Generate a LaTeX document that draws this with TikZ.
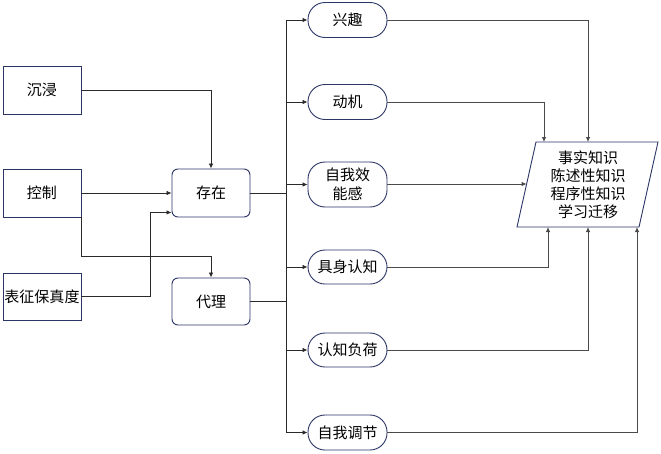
\documentclass[tikz,border=0pt]{standalone}
\usepackage{fontspec}
\newfontfamily\cjk{Noto Sans CJK SC}
\usetikzlibrary{arrows.meta,calc}
\definecolor{navy}{HTML}{2B3566}
\definecolor{conn}{HTML}{2A2A2A}
\definecolor{connr}{HTML}{4A4A4A}
\begin{document}
\begin{tikzpicture}[x=1pt,y=-1pt,
  txt/.style={font=\cjk\fontsize{15}{19}\selectfont, align=center},
  box/.style={txt, draw=navy, line width=0.9pt, minimum width=78pt, minimum height=48pt, inner sep=0pt},
  rbox/.style={box, rounded corners=6pt},
  pill/.style={txt, draw=navy, line width=0.9pt, rounded corners=17pt, minimum width=79pt, minimum height=35pt, inner sep=0pt},
  link/.style={draw=conn, line width=0.8pt, -{Latex[length=5pt,width=4.5pt]}},
  linkr/.style={draw=connr, line width=0.8pt, -{Latex[length=5pt,width=4.5pt]}},
  plain/.style={draw=conn, line width=0.8pt}]
\useasboundingbox[fill=white] (0,0) rectangle (661,453);

% left column
\node[box] (imm) at (42,90) {沉浸};
\node[box] (ctrl) at (42,193) {控制};
\node[box, minimum height=47pt] (fid) at (42,296.5) {表征保真度};
% middle
\node[rbox] (exist) at (211,193) {存在};
\node[rbox, minimum height=47pt] (agent) at (211,301.5) {代理};
% right column
\node[pill] (interest) at (347.5,20) {兴趣};
\node[pill] (motive) at (347.5,102) {动机};
\node[pill, minimum height=45pt] (eff) at (347.5,184.5) {自我效\\能感};
\node[pill, minimum height=34pt] (emb) at (347.5,267) {具身认知};
\node[pill, minimum height=34pt] (load) at (347.5,350) {认知负荷};
\node[pill] (reg) at (347.5,432.5) {自我调节};

% outcome parallelogram
\coordinate (ptl) at (536,142);
\coordinate (ptr) at (658,142);
\coordinate (pbr) at (639,227);
\coordinate (pbl) at (517,227);
\draw[draw=navy, line width=0.9pt] (ptl) -- (ptr) -- (pbr) -- (pbl) -- cycle;
\node[txt, font=\cjk\fontsize{15}{18}\selectfont] (out) at (588,185) {事实知识\\陈述性知识\\程序性知识\\学习迁移};

% left connectors
\draw[link] (imm.east) -| (exist.north);
\draw[link] (ctrl.east) -- (exist.west);
\coordinate (fidturn) at (150,296.5);
\draw[link] (fid.east) -- (fidturn) |- ($(exist.south west)+(0,-5)$);
\draw[link] (ctrl.south east) -- ++(0,39) -| (agent.north);

% bus
\coordinate (bus) at (286,0);
\draw[plain] (exist.east) -- (bus |- exist.east);
\draw[plain] (agent.east) -- (bus |- agent.east);
\draw[plain] (bus |- interest.west) -- (bus |- reg.west);
\foreach \n in {interest,motive,eff,emb,load,reg}
  \draw[link] (bus |- \n.west) -- (\n.west);

% right connectors
\coordinate (t1) at (588,142);
\coordinate (t2) at (544,142);
\coordinate (l1) at (526.6,184);
\coordinate (b1) at (548,227);
\coordinate (b2) at (588,227);
\coordinate (b3) at (637,227);
\draw[linkr] (interest.east) -| (t1);
\draw[linkr] (motive.east) -| (t2);
\draw[linkr] (eff.east |- l1) -- (l1);
\draw[linkr] (emb.east) -| (b1);
\draw[linkr] (load.east) -| (b2);
\draw[linkr] (reg.east) -| (b3);
\end{tikzpicture}
\end{document}
